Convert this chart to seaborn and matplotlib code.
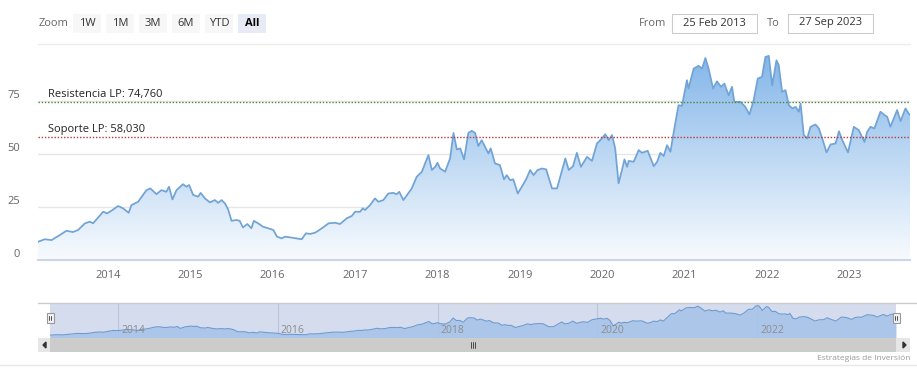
import matplotlib.pyplot as plt
import matplotlib.dates as mdates
import matplotlib.transforms as mtransforms
from matplotlib.colors import LinearSegmentedColormap
from matplotlib.patches import Rectangle, Polygon
from matplotlib.lines import Line2D
import numpy as np
import pandas as pd
import seaborn as sns

# Data (price, approx.)
dates = [
    "2013-02-25", "2013-03-27", "2013-04-26", "2013-06-02", "2013-07-01", "2013-07-30",
    "2013-08-22", "2013-09-21", "2013-10-13", "2013-10-27", "2013-12-11", "2013-12-28",
    "2014-01-17", "2014-02-15", "2014-03-09", "2014-04-03", "2014-04-15", "2014-05-15",
    "2014-06-21", "2014-07-08", "2014-08-04", "2014-08-26", "2014-09-17", "2014-09-29",
    "2014-10-14", "2014-11-01", "2014-11-30", "2014-12-15", "2014-12-27", "2015-01-14",
    "2015-02-05", "2015-02-16", "2015-03-07", "2015-03-29", "2015-04-20", "2015-05-05",
    "2015-05-20", "2015-06-04", "2015-06-18", "2015-07-03", "2015-07-25", "2015-08-08",
    "2015-08-23", "2015-09-11", "2015-09-29", "2015-10-10", "2015-10-29", "2015-11-20",
    "2015-12-12", "2016-01-04", "2016-01-21", "2016-02-10", "2016-02-25", "2016-03-18",
    "2016-04-17", "2016-05-09", "2016-05-28", "2016-06-16", "2016-07-08", "2016-08-07",
    "2016-09-05", "2016-10-04", "2016-10-26", "2016-11-25", "2016-12-17", "2017-01-01",
    "2017-01-23", "2017-02-04", "2017-02-14", "2017-03-08", "2017-03-30", "2017-04-14",
    "2017-05-06", "2017-05-28", "2017-06-19", "2017-07-04", "2017-07-16", "2017-08-03",
    "2017-09-09", "2017-10-01", "2017-10-24", "2017-11-07", "2017-11-22", "2017-12-07",
    "2017-12-22", "2018-01-01", "2018-01-13", "2018-02-04", "2018-02-26", "2018-03-13",
    "2018-03-28", "2018-04-12", "2018-04-29", "2018-05-18", "2018-06-02", "2018-06-17",
    "2018-07-01", "2018-07-16", "2018-07-31", "2018-08-15", "2018-08-25", "2018-09-13",
    "2018-10-05", "2018-10-23", "2018-11-04", "2018-11-19", "2018-12-03", "2018-12-23",
    "2019-01-10", "2019-01-29", "2019-02-16", "2019-03-03", "2019-03-21", "2019-04-09",
    "2019-04-28", "2019-05-24", "2019-06-15", "2019-07-22", "2019-08-06", "2019-08-25",
    "2019-09-11", "2019-09-29", "2019-10-26", "2019-11-17", "2019-12-09", "2019-12-31",
    "2020-01-15", "2020-01-30", "2020-02-14", "2020-02-28", "2020-03-14", "2020-03-29",
    "2020-04-09", "2020-04-21", "2020-04-28", "2020-05-20", "2020-06-11", "2020-06-26",
    "2020-07-21", "2020-08-17", "2020-09-01", "2020-09-15", "2020-09-30", "2020-10-15",
    "2020-10-30", "2020-11-10", "2020-11-28", "2020-12-05", "2020-12-20", "2021-01-11",
    "2021-01-18", "2021-02-10", "2021-03-04", "2021-03-19", "2021-04-03", "2021-04-17",
    "2021-05-07", "2021-05-24", "2021-06-11", "2021-06-26", "2021-07-15", "2021-07-30",
    "2021-08-09", "2021-09-05", "2021-09-27", "2021-10-15", "2021-11-03", "2021-11-21",
    "2021-12-10", "2021-12-25", "2022-01-09", "2022-01-24", "2022-02-12", "2022-02-22",
    "2022-03-09", "2022-03-24", "2022-04-08", "2022-04-23", "2022-05-08", "2022-05-22",
    "2022-05-30", "2022-06-13", "2022-06-28", "2022-07-13", "2022-08-04", "2022-08-19",
    "2022-09-03", "2022-09-22", "2022-10-10", "2022-11-01", "2022-11-16", "2022-12-01",
    "2022-12-26", "2023-01-21", "2023-02-12", "2023-03-09", "2023-03-21", "2023-04-05",
    "2023-04-22", "2023-05-19", "2023-06-03", "2023-06-18", "2023-07-02", "2023-07-17",
    "2023-08-01", "2023-08-16", "2023-09-07", "2023-09-21", "2023-09-27",
]
values = [
    8.6, 9.8, 9.4, 11.8, 13.8, 13.2,
    14.2, 17.3, 18.1, 17.3, 22.8, 22.0,
    23.3, 25.5, 24.4, 22.3, 25.9, 27.5,
    33.0, 33.8, 31.1, 33.0, 32.2, 34.6,
    28.6, 33.0, 35.8, 34.6, 35.4, 30.7,
    29.9, 31.7, 29.1, 27.2, 28.3, 27.0,
    28.3, 26.7, 23.9, 18.5, 18.9, 18.5,
    15.4, 17.0, 15.0, 18.5, 17.3, 15.7,
    15.0, 14.2, 11.0, 10.2, 11.0, 10.7,
    10.2, 9.8, 12.6, 12.3, 12.9, 15.0,
    17.3, 17.6, 17.0, 19.7, 20.8, 22.8,
    22.8, 24.4, 23.6, 25.9, 29.1, 27.5,
    28.3, 31.4, 31.7, 31.1, 32.2, 28.3,
    33.8, 39.3, 41.7, 45.6, 49.5, 42.5,
    44.0, 45.9, 43.2, 41.7, 48.0, 60.0,
    52.2, 52.7, 47.5, 60.0, 61.0, 60.0,
    53.8, 56.6, 53.4, 50.3, 52.7, 45.6,
    44.8, 38.1, 40.1, 37.7, 38.1, 31.4,
    34.6, 38.1, 42.5, 40.1, 42.5, 43.2,
    42.8, 33.8, 33.8, 48.0, 42.5, 44.3,
    50.6, 44.0, 48.7, 46.8, 55.0, 57.4,
    59.4, 56.6, 59.0, 52.7, 36.2, 42.5,
    47.5, 44.0, 46.8, 46.4, 51.9, 50.6,
    51.6, 44.3, 46.4, 50.6, 49.1, 54.2,
    51.1, 58.2, 69.2, 73.1, 72.8, 84.9,
    81.0, 90.4, 91.7, 90.4, 95.4, 90.4,
    81.0, 84.4, 81.8, 83.3, 77.8, 81.8,
    74.7, 74.7, 72.3, 68.7, 75.5, 85.7,
    86.5, 95.9, 96.4, 82.5, 94.3, 92.0,
    79.4, 80.2, 73.1, 71.6, 72.3, 70.0,
    73.9, 59.0, 57.4, 62.9, 64.0, 62.1,
    57.4, 50.8, 54.6, 55.0, 60.8, 56.6,
    50.8, 62.9, 61.3, 55.8, 60.5, 62.9,
    62.1, 70.0, 68.7, 67.6, 62.9, 66.8,
    70.8, 65.6, 71.6, 69.2, 68.5,
]
resistencia = 74.76
soporte = 58.03
year_ticks = [2014, 2015, 2016, 2017, 2018, 2019, 2020, 2021, 2022, 2023]
nav_years = [2014, 2016, 2018, 2020, 2022]
y_ticks = [0, 25, 50, 75]
zoom_buttons = ["1W", "1M", "3M", "6M", "YTD", "All"]
date_from = "25 Feb 2013"
date_to = "27 Sep 2023"

df = pd.DataFrame({"date": pd.to_datetime(dates), "value": values})

sns.set_style("white")
plt.rcParams["font.family"] = ["Open Sans", "DejaVu Sans"]

W, H = 917, 383
fig = plt.figure(figsize=(W / 100, H / 100), dpi=100)


def box(x0, y0, x1, y1):
    # pixel box (top-left origin) -> figure rect
    return [x0 / W, 1 - y1 / H, (x1 - x0) / W, (y1 - y0) / H]


def rect(x0, y0, x1, y1, **kw):
    fig.add_artist(Rectangle((x0 / W, 1 - y1 / H), (x1 - x0) / W, (y1 - y0) / H,
                             transform=fig.transFigure, **kw))


def hline(x0, x1, y, **kw):
    fig.add_artist(Line2D([x0 / W, x1 / W], [1 - y / H, 1 - y / H],
                          transform=fig.transFigure, **kw))


def ftext(x, y, s, **kw):
    fig.text(x / W, 1 - y / H, s, **kw)


x0, x1 = df["date"].iloc[0], df["date"].iloc[-1]
xnum = mdates.date2num(df["date"])

# main chart
ax = fig.add_axes(box(38, 44, 910, 260))
sns.lineplot(data=df, x="date", y="value", ax=ax, color="#70a3d6", linewidth=1.25, zorder=4)

grad = np.linspace(1, 0, 256)[:, None]
cmap = LinearSegmentedColormap.from_list("fill", ["#f8fbfe", "#7db2e8"])
im = ax.imshow(grad, cmap=cmap, aspect="auto", origin="upper",
               extent=[xnum[0], xnum[-1], 0, 102], zorder=2)
verts = list(zip(xnum, values)) + [(xnum[-1], 0), (xnum[0], 0)]
poly = Polygon(verts, closed=True, facecolor="none", edgecolor="none", transform=ax.transData)
ax.add_patch(poly)
im.set_clip_path(poly)

ax.set_xlim(x0, x1)
ax.set_ylim(0, 102)

ax.axhline(resistencia, color="#4f8a3c", lw=1.0, ls=(0, (1, 1.3)), zorder=5)
ax.axhline(soporte, color="#b83a3a", lw=1.0, ls=(0, (1, 1.3)), zorder=5)
trans = mtransforms.blended_transform_factory(ax.transAxes, ax.transData)
ax.text(10 / 872, resistencia + 0.8, "Resistencia LP: " + f"{resistencia:.3f}".replace(".", ","),
        transform=trans, va="bottom", ha="left", fontsize=8, color="#222", zorder=6)
ax.text(10 / 872, soporte + 0.8, "Soporte LP: " + f"{soporte:.3f}".replace(".", ","),
        transform=trans, va="bottom", ha="left", fontsize=8, color="#222", zorder=6)

ax.set_yticks(y_ticks)
ax.set_yticklabels([str(v) for v in y_ticks])
for lbl in ax.get_yticklabels():
    lbl.set_va("bottom")
ax.set_xticks([pd.Timestamp(f"{y}-01-01") for y in year_ticks])
ax.set_xticklabels([str(y) for y in year_ticks])
ax.tick_params(axis="y", length=0, pad=13, labelsize=8, labelcolor="#666666")
ax.tick_params(axis="x", length=7, width=1, color="#ccd6eb", pad=0, labelsize=8, labelcolor="#666666")
ax.yaxis.grid(True, color="#e6e6e6", lw=1, zorder=0)
ax.xaxis.grid(False)
ax.set_axisbelow(True)
for side in ["top", "left", "right"]:
    ax.spines[side].set_visible(False)
ax.spines["bottom"].set_color("#ccd6eb")
ax.spines["bottom"].set_linewidth(1.5)
ax.set_xlabel("")
ax.set_ylabel("")

# navigator
nav = fig.add_axes(box(50, 303, 896, 338))
nav.set_facecolor("#d4dcee")
sns.lineplot(data=df, x="date", y="value", ax=nav, color="#6d9bd2", linewidth=0.8, zorder=3)
nav.fill_between(df["date"], df["value"], 0, color="#a6c3ea", alpha=0.85, lw=0, zorder=2)
nav.set_xlim(x0, x1)
nav.set_ylim(0, 105)
for y in nav_years:
    d = pd.Timestamp(f"{y}-01-01")
    nav.axvline(d, color="#bcc6da", lw=0.8, zorder=1)
    nav.text(d + pd.Timedelta(days=15), 22, str(y), fontsize=7.5, color="#8c8c8c",
             va="center", ha="left", zorder=4)
nav.set_xticks([])
nav.set_yticks([])
nav.set_xlabel("")
nav.set_ylabel("")
for s in nav.spines.values():
    s.set_visible(False)
hline(38, 917, 303, color="#cccccc", lw=1)

# navigator handles
for hx in (50, 896):
    rect(hx - 3.5, 313, hx + 3.5, 323, facecolor="#f2f2f2", edgecolor="#999999", lw=0.8)
    for dx in (-1, 1):
        fig.add_artist(Line2D([(hx + dx) / W] * 2, [1 - 316 / H, 1 - 320 / H],
                              transform=fig.transFigure, color="#333", lw=0.6))

# scrollbar
rect(38, 338, 910, 352, facecolor="#f2f2f2", edgecolor="none")
rect(50, 338, 896, 352, facecolor="#cccccc", edgecolor="none")
rect(38, 338, 50, 352, facecolor="#e6e6e6", edgecolor="none")
rect(896, 338, 910, 352, facecolor="#e6e6e6", edgecolor="none")
fig.add_artist(Polygon([(43 / W, 1 - 345 / H), (46 / W, 1 - 342 / H), (46 / W, 1 - 348 / H)],
                       closed=True, transform=fig.transFigure, color="#333"))
fig.add_artist(Polygon([(906 / W, 1 - 345 / H), (903 / W, 1 - 342 / H), (903 / W, 1 - 348 / H)],
                       closed=True, transform=fig.transFigure, color="#333"))
for gx in (471, 473, 475):
    fig.add_artist(Line2D([gx / W] * 2, [1 - 342 / H, 1 - 348 / H],
                          transform=fig.transFigure, color="#333", lw=0.6))

ftext(910, 359, "Estrategias de Inversión", ha="right", va="center", fontsize=6, color="#999999")
hline(0, 917, 365, color="#e8e8e8", lw=1)

# range selector
ftext(39, 23, "Zoom", ha="left", va="center", fontsize=8, color="#666666")
for i, lab in enumerate(zoom_buttons):
    bx = 73 + i * 33
    sel = lab == "All"
    rect(bx, 14, bx + 28, 33, facecolor="#e6ebf5" if sel else "#f7f7f7", edgecolor="none")
    ftext(bx + 14, 23, lab, ha="center", va="center", fontsize=8,
          color="#000000" if sel else "#333333", fontweight="bold" if sel else "normal")

ftext(639, 23, "From", ha="left", va="center", fontsize=8, color="#666666")
rect(672, 14, 757, 33, facecolor="white", edgecolor="#cccccc", lw=0.8)
ftext(714.5, 23, date_from, ha="center", va="center", fontsize=8, color="#333333")
ftext(767, 23, "To", ha="left", va="center", fontsize=8, color="#666666")
rect(788, 14, 873, 33, facecolor="white", edgecolor="#cccccc", lw=0.8)
ftext(830.5, 23, date_to, ha="center", va="center", fontsize=8, color="#333333")
hline(38, 910, 44, color="#ececec", lw=1)

fig.savefig("out.png", dpi=100)
